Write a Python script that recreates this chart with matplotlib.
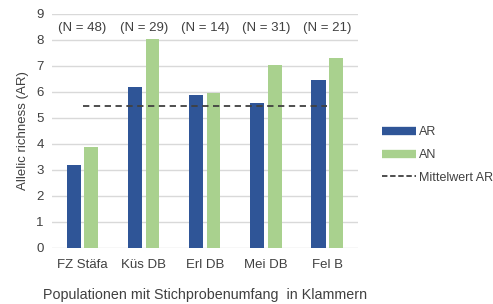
import numpy as np
import matplotlib.pyplot as plt
from matplotlib.lines import Line2D

plt.rcParams['font.family'] = ['Liberation Sans', 'DejaVu Sans']

# Daten
populationen = ["FZ Stäfa", "Küs DB", "Erl DB", "Mei DB", "Fel B"]
stichprobe = ["(N = 48)", "(N = 29)", "(N = 14)", "(N = 31)", "(N = 21)"]
ar = [3.2, 6.2, 5.88, 5.57, 6.45]
an = [3.9, 8.05, 5.95, 7.05, 7.32]
mittelwert_ar = 5.46

blau = "#2F5597"
gruen = "#A9D18E"
grau = "#404040"

fig = plt.figure(figsize=(4.93, 3.04), dpi=100)
ax = fig.add_axes([52 / 493, 1 - 248 / 304, 306 / 493, 234 / 304])

x = np.arange(len(populationen))
ax.bar(x - 0.145, ar, width=0.23, color=blau, zorder=3)
ax.bar(x + 0.14, an, width=0.22, color=gruen, zorder=3)
ax.plot([x[0], x[-1]], [mittelwert_ar, mittelwert_ar], ls=(0, (3.5, 2.5)),
        color=grau, lw=1.3, zorder=4)

for xi, n in zip(x, stichprobe):
    ax.text(xi, 8.45, n, ha="center", va="center", fontsize=9.5, color=grau)

ax.set_xlim(-0.5, 4.5)
ax.set_ylim(0, 9)
ax.set_yticks(range(10))
ax.set_xticks(x)
ax.set_xticklabels(populationen)
ax.tick_params(length=0, labelsize=9.5, colors=grau, pad=8)
ax.tick_params(axis="y", pad=6)
ax.grid(axis="y", color="#D9D9D9", lw=1, zorder=0)
for s in ax.spines.values():
    s.set_visible(False)

ax.set_ylabel("Allelic richness (AR)", fontsize=9.5, color=grau, labelpad=5)
ax.set_xlabel("Populationen mit Stichprobenumfang  in Klammern", fontsize=10.3,
              color=grau, labelpad=12)

handles = [Line2D([], [], color=blau, lw=6, solid_capstyle="butt"),
           Line2D([], [], color=gruen, lw=6, solid_capstyle="butt"),
           Line2D([], [], color=grau, lw=1.3, ls=(0, (3, 1.5)))]
ax.legend(handles, ["AR", "AN", "Mittelwert AR"], loc="upper left",
          bbox_to_anchor=(1.078, 0.52), frameon=False,
          fontsize=9, labelcolor=grau, handlelength=2.7, handletextpad=0.3,
          labelspacing=0.85, borderpad=0, borderaxespad=0)

fig.savefig("out.png", dpi=100)
